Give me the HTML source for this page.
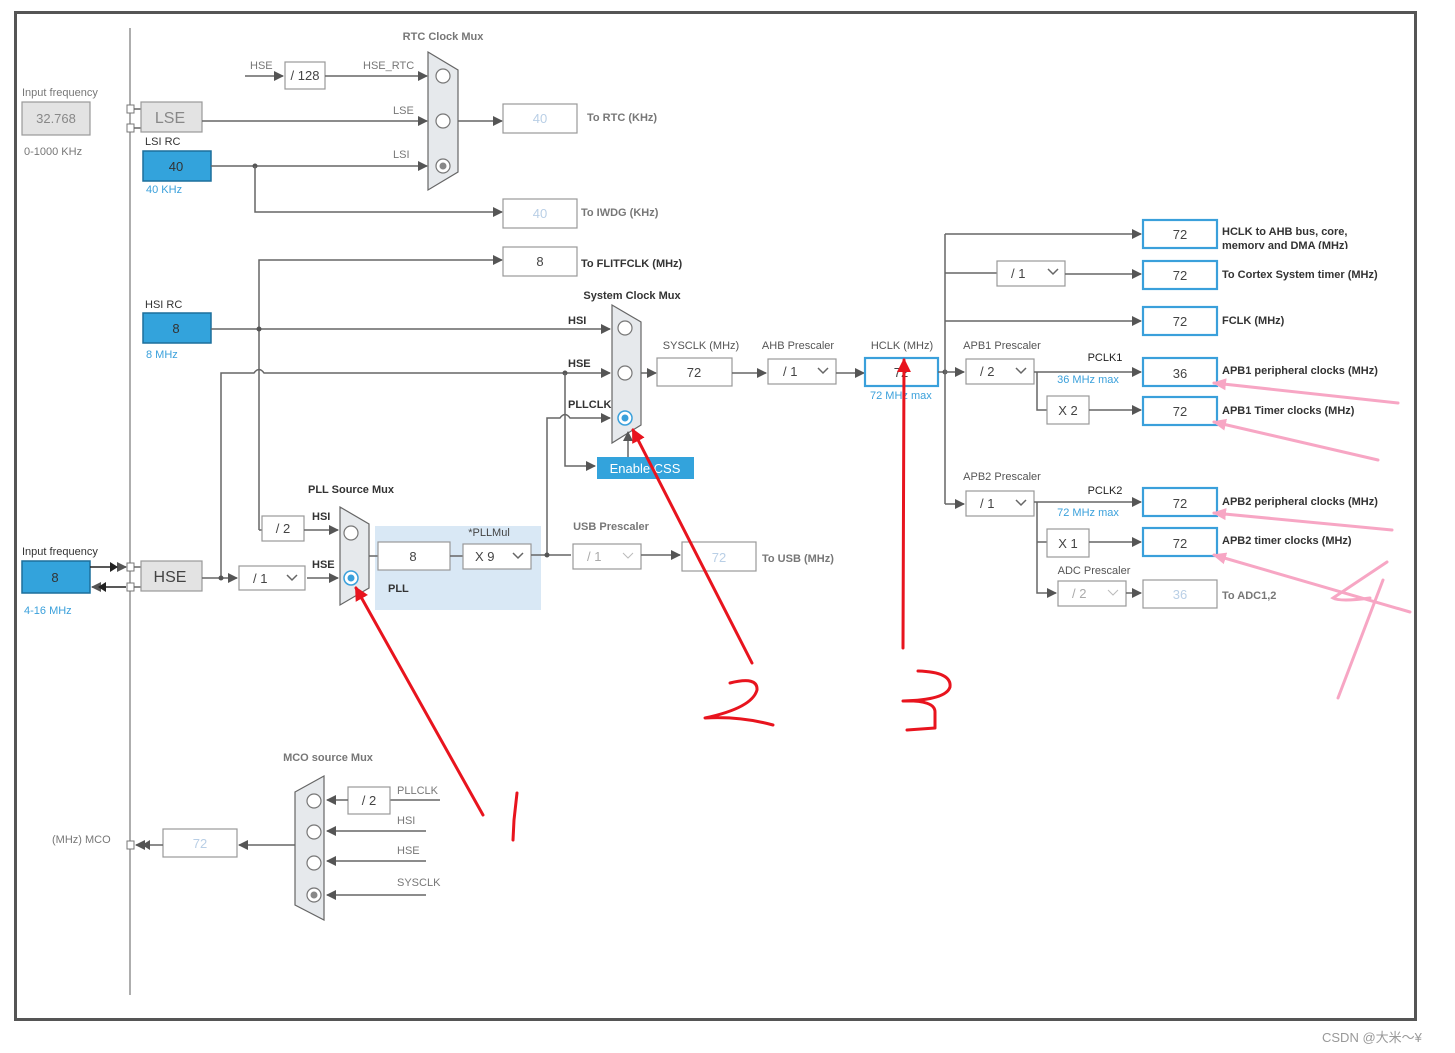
<!DOCTYPE html>
<html><head><meta charset="utf-8"><style>
html,body{margin:0;padding:0;background:#fff;}
svg{display:block;font-family:"Liberation Sans","Noto Sans CJK SC",sans-serif;}
.l{stroke:#666;stroke-width:1.5;fill:none}
.b{fill:#fff;stroke:#999;stroke-width:1.2}
.bb{fill:#fff;stroke:#3aa0db;stroke-width:2.2}
.g{fill:#e3e3e3;stroke:#999;stroke-width:1.2}
.bl{fill:#33a3dc;stroke:#1c6f9c;stroke-width:1.5}
.t{font-size:11px;fill:#777}
.tk{font-size:11px;fill:#333;font-weight:bold}
.n{font-size:13px;fill:#444;text-anchor:middle}
.nl{font-size:13px;fill:#b9cfe6;text-anchor:middle}
.tb{font-size:11px;fill:#3aa0db}
.mux{fill:#e6e9ec;stroke:#666;stroke-width:1.2}
.c{fill:#fff;stroke:#777;stroke-width:1.2}
.red{stroke:#e8141e;stroke-width:3;fill:none;stroke-linecap:round;stroke-linejoin:round}
.pk{stroke:#f7a6c4;stroke-width:3;fill:none;stroke-linecap:round}
</style></head><body>
<svg width="1455" height="1053" viewBox="0 0 1455 1053">
<defs>
<marker id="a" markerWidth="10" markerHeight="10" refX="9" refY="5" orient="auto" markerUnits="userSpaceOnUse"><path d="M0,0 L10,5 L0,10z" fill="#555"/></marker>
<marker id="r" markerWidth="14" markerHeight="14" refX="12" refY="7" orient="auto" markerUnits="userSpaceOnUse"><path d="M0,0 L14,7 L0,14z" fill="#e8141e"/></marker>
<marker id="p" markerWidth="14" markerHeight="14" refX="12" refY="7" orient="auto" markerUnits="userSpaceOnUse"><path d="M0,1 L14,7 L0,13z" fill="#f7a6c4"/></marker>
</defs>
<rect x="15.5" y="12.5" width="1400" height="1007" fill="none" stroke="#555" stroke-width="3"/>
<line x1="130" y1="28" x2="130" y2="995" stroke="#777" stroke-width="1.2"/>

<!-- RTC -->
<text x="443" y="40" class="t" text-anchor="middle" font-weight="bold">RTC Clock Mux</text>
<text x="250" y="69" class="t">HSE</text>
<line x1="245" y1="76" x2="283" y2="76" class="l" marker-end="url(#a)"/>
<rect x="285" y="62" width="40" height="27" class="b"/><text x="305" y="80" class="n">/ 128</text>
<text x="363" y="69" class="t">HSE_RTC</text>
<line x1="325" y1="76" x2="427" y2="76" class="l" marker-end="url(#a)"/>
<polygon points="428,52 458,70 458,172 428,190" class="mux"/>
<circle cx="443" cy="76" r="7" class="c"/><circle cx="443" cy="121" r="7" class="c"/><circle cx="443" cy="166" r="7" class="c"/><circle cx="443" cy="166" r="3.5" fill="#888"/>
<text x="22" y="96" class="t">Input frequency</text>
<rect x="22" y="102" width="68" height="33" class="g"/><text x="56" y="123" class="n" fill="#888" style="fill:#888">32.768</text>
<text x="24" y="155" class="t">0-1000 KHz</text>
<rect x="127" y="105" width="7" height="8" fill="#fff" stroke="#777"/><rect x="127" y="124" width="7" height="8" fill="#fff" stroke="#777"/>
<line x1="134" y1="109" x2="141" y2="109" class="l"/><line x1="134" y1="128" x2="141" y2="128" class="l"/>
<rect x="141" y="102" width="61" height="30" class="g"/><text x="170" y="123" class="n" style="font-size:16px;fill:#888">LSE</text>
<line x1="202" y1="121" x2="427" y2="121" class="l" marker-end="url(#a)"/><text x="393" y="114" class="t">LSE</text>
<text x="145" y="145" class="t" style="fill:#333">LSI RC</text>
<rect x="143" y="151" width="68" height="30" class="bl"/><text x="176" y="171" class="n" style="fill:#333">40</text>
<text x="146" y="193" class="tb">40 KHz</text>
<line x1="211" y1="166" x2="427" y2="166" class="l" marker-end="url(#a)"/><text x="393" y="158" class="t">LSI</text>
<circle cx="255" cy="166" r="2.5" fill="#555"/>
<polyline points="255,166 255,212 502,212" class="l" marker-end="url(#a)"/>
<line x1="458" y1="121" x2="502" y2="121" class="l" marker-end="url(#a)"/>
<rect x="503" y="104" width="74" height="29" class="b"/><text x="540" y="123" class="nl">40</text>
<text x="587" y="121" class="t" font-weight="bold">To RTC (KHz)</text>
<rect x="503" y="199" width="74" height="29" class="b"/><text x="540" y="218" class="nl">40</text>
<text x="581" y="216" class="t" font-weight="bold">To IWDG (KHz)</text>

<!-- FLITF / HSI -->
<polyline points="259,530 259,260 502,260" class="l" marker-end="url(#a)"/>
<rect x="503" y="247" width="74" height="29" class="b"/><text x="540" y="266" class="n">8</text>
<text x="581" y="267" class="tk">To FLITFCLK (MHz)</text>
<text x="145" y="308" class="t" style="fill:#333">HSI RC</text>
<rect x="143" y="313" width="68" height="30" class="bl"/><text x="176" y="333" class="n" style="fill:#333">8</text>
<text x="146" y="358" class="tb">8 MHz</text>
<line x1="211" y1="329" x2="610" y2="329" class="l" marker-end="url(#a)"/><circle cx="259" cy="329" r="2.5" fill="#555"/>
<text x="568" y="324" class="tk">HSI</text>
<path d="M221,578 L221,373 L254,373 Q259,366 264,373 L610,373" class="l" marker-end="url(#a)"/>
<text x="568" y="367" class="tk">HSE</text>
<circle cx="565" cy="373" r="2.5" fill="#555"/>
<polyline points="565,373 565,466 595,466" class="l" marker-end="url(#a)"/>
<path d="M547,555 L547,418 L560,418 Q565,411 570,418 L610,418" class="l" marker-end="url(#a)"/>
<text x="568" y="408" class="tk">PLLCLK</text>
<text x="632" y="299" class="tk" text-anchor="middle">System Clock Mux</text>
<polygon points="612,305 641,322 641,425 612,443" class="mux"/>
<circle cx="625" cy="328" r="7" class="c"/><circle cx="625" cy="373" r="7" class="c"/>
<circle cx="625" cy="418" r="7" fill="#fff" stroke="#3aa0db" stroke-width="1.5"/><circle cx="625" cy="418" r="3.5" fill="#3aa0db"/>
<rect x="597" y="457" width="97" height="22" fill="#33a3dc"/><text x="645" y="473" class="n" style="fill:#fff">Enable CSS</text>
<line x1="628" y1="457" x2="628" y2="432" class="l" marker-end="url(#a)"/>

<!-- SYSCLK/AHB/HCLK -->
<text x="701" y="349" class="t" text-anchor="middle" style="fill:#555">SYSCLK (MHz)</text>
<line x1="641" y1="373" x2="656" y2="373" class="l" marker-end="url(#a)"/>
<rect x="657" y="358" width="75" height="28" class="b"/><text x="694" y="377" class="n">72</text>
<line x1="732" y1="373" x2="766" y2="373" class="l" marker-end="url(#a)"/>
<text x="798" y="349" class="t" text-anchor="middle" style="fill:#555">AHB Prescaler</text>
<rect x="768" y="359" width="68" height="25" class="b"/><text x="783" y="376" class="n" style="text-anchor:start">/ 1</text><path d="M818,368 l5,5 l5,-5" class="l"/>
<line x1="836" y1="373" x2="864" y2="373" class="l" marker-end="url(#a)"/>
<text x="902" y="349" class="t" text-anchor="middle" style="fill:#555">HCLK (MHz)</text>
<rect x="865" y="358" width="73" height="28" class="bb"/><text x="901" y="377" class="n">72</text>
<text x="870" y="399" class="tb">72 MHz max</text>
<line x1="938" y1="372" x2="945" y2="372" class="l"/><circle cx="945" cy="372" r="2.5" fill="#555"/>
<line x1="945" y1="234" x2="945" y2="504" class="l"/>
<line x1="945" y1="234" x2="1141" y2="234" class="l" marker-end="url(#a)"/>
<rect x="1143" y="220" width="74" height="28" class="bb"/><text x="1180" y="239" class="n">72</text>
<text x="1222" y="235" class="tk">HCLK to AHB bus, core,</text>
<svg x="1222" y="238" width="200" height="11" overflow="hidden"><text x="0" y="11" class="tk">memory and DMA (MHz)</text></svg>
<line x1="945" y1="273" x2="997" y2="273" class="l"/>
<rect x="997" y="261" width="68" height="25" class="b"/><text x="1011" y="278" class="n" style="text-anchor:start">/ 1</text><path d="M1048,269 l5,5 l5,-5" class="l"/>
<line x1="1065" y1="274" x2="1141" y2="274" class="l" marker-end="url(#a)"/>
<rect x="1143" y="261" width="74" height="28" class="bb"/><text x="1180" y="280" class="n">72</text>
<text x="1222" y="278" class="tk">To Cortex System timer (MHz)</text>
<line x1="945" y1="321" x2="1141" y2="321" class="l" marker-end="url(#a)"/>
<rect x="1143" y="307" width="74" height="28" class="bb"/><text x="1180" y="326" class="n">72</text>
<text x="1222" y="324" class="tk">FCLK (MHz)</text>

<!-- APB1 -->
<text x="1002" y="349" class="t" text-anchor="middle" style="fill:#555">APB1 Prescaler</text>
<line x1="945" y1="372" x2="964" y2="372" class="l" marker-end="url(#a)"/>
<rect x="966" y="359" width="68" height="25" class="b"/><text x="980" y="376" class="n" style="text-anchor:start">/ 2</text><path d="M1016,368 l5,5 l5,-5" class="l"/>
<line x1="1034" y1="372" x2="1141" y2="372" class="l" marker-end="url(#a)"/>
<text x="1105" y="361" class="tk" style="font-weight:normal;fill:#222" text-anchor="middle">PCLK1</text>
<text x="1088" y="383" class="tb" text-anchor="middle">36 MHz max</text>
<rect x="1143" y="358" width="74" height="28" class="bb"/><text x="1180" y="378" class="n">36</text>
<text x="1222" y="374" class="tk">APB1 peripheral clocks (MHz)</text>
<polyline points="1037,372 1037,410 1047,410" class="l"/>
<rect x="1047" y="396" width="42" height="28" class="b"/><text x="1068" y="415" class="n">X 2</text>
<line x1="1089" y1="410" x2="1141" y2="410" class="l" marker-end="url(#a)"/>
<rect x="1143" y="397" width="74" height="28" class="bb"/><text x="1180" y="416" class="n">72</text>
<text x="1222" y="414" class="tk">APB1 Timer clocks (MHz)</text>

<!-- APB2 -->
<text x="1002" y="480" class="t" text-anchor="middle" style="fill:#555">APB2 Prescaler</text>
<line x1="945" y1="504" x2="964" y2="504" class="l" marker-end="url(#a)"/>
<rect x="966" y="491" width="68" height="25" class="b"/><text x="980" y="508" class="n" style="text-anchor:start">/ 1</text><path d="M1016,500 l5,5 l5,-5" class="l"/>
<line x1="1034" y1="502" x2="1141" y2="502" class="l" marker-end="url(#a)"/>
<text x="1105" y="494" class="tk" style="font-weight:normal;fill:#222" text-anchor="middle">PCLK2</text>
<text x="1088" y="516" class="tb" text-anchor="middle">72 MHz max</text>
<rect x="1143" y="488" width="74" height="28" class="bb"/><text x="1180" y="508" class="n">72</text>
<text x="1222" y="505" class="tk">APB2 peripheral clocks (MHz)</text>
<polyline points="1037,502 1037,593 1056,593" class="l" marker-end="url(#a)"/>
<line x1="1037" y1="542" x2="1047" y2="542" class="l"/>
<rect x="1047" y="529" width="42" height="28" class="b"/><text x="1068" y="548" class="n">X 1</text>
<line x1="1089" y1="542" x2="1141" y2="542" class="l" marker-end="url(#a)"/>
<rect x="1143" y="528" width="74" height="28" class="bb"/><text x="1180" y="548" class="n">72</text>
<text x="1222" y="544" class="tk">APB2 timer clocks (MHz)</text>
<text x="1094" y="574" class="t" text-anchor="middle" style="fill:#555">ADC Prescaler</text>
<rect x="1058" y="581" width="68" height="25" class="b"/><text x="1072" y="598" class="nl" style="text-anchor:start;fill:#aaa">/ 2</text><path d="M1108,590 l5,5 l5,-5" stroke="#bbb" fill="none"/>
<line x1="1126" y1="593" x2="1141" y2="593" class="l" marker-end="url(#a)"/>
<rect x="1143" y="580" width="74" height="28" class="b"/><text x="1180" y="599" class="nl">36</text>
<text x="1222" y="599" class="t" font-weight="bold">To ADC1,2</text>

<!-- HSE input / PLL -->
<text x="22" y="555" class="t" style="fill:#333">Input frequency</text>
<rect x="22" y="561" width="68" height="32" class="bl"/><text x="55" y="582" class="n" style="fill:#333">8</text>
<text x="24" y="614" class="tb">4-16 MHz</text>
<line x1="90" y1="567" x2="126" y2="567" stroke="#222" stroke-width="1.5" marker-end="url(#a)"/>
<path d="M110,562 l8,5 l-8,5z" fill="#222"/>
<line x1="126" y1="587" x2="92" y2="587" stroke="#222" stroke-width="1.5" marker-end="url(#a)"/>
<path d="M106,582 l-8,5 l8,5z" fill="#222"/>
<rect x="127" y="563" width="7" height="8" fill="#fff" stroke="#777"/><rect x="127" y="583" width="7" height="8" fill="#fff" stroke="#777"/>
<line x1="134" y1="567" x2="141" y2="567" class="l"/><line x1="134" y1="587" x2="141" y2="587" class="l"/>
<rect x="141" y="561" width="61" height="30" class="g"/><text x="170" y="582" class="n" style="font-size:16px;fill:#444">HSE</text>
<line x1="202" y1="578" x2="237" y2="578" class="l" marker-end="url(#a)"/><circle cx="221" cy="578" r="2.5" fill="#555"/>
<rect x="239" y="566" width="66" height="24" class="b"/><text x="253" y="583" class="n" style="text-anchor:start">/ 1</text><path d="M287,575 l5,5 l5,-5" class="l"/>
<line x1="307" y1="578" x2="338" y2="578" class="l" marker-end="url(#a)"/>
<text x="312" y="568" class="tk">HSE</text>
<polyline points="259,530 262,530" class="l"/>
<rect x="262" y="516" width="42" height="25" class="b"/><text x="283" y="533" class="n">/ 2</text>
<line x1="304" y1="530" x2="338" y2="530" class="l" marker-end="url(#a)"/>
<text x="312" y="520" class="tk">HSI</text>
<text x="351" y="493" class="tk" text-anchor="middle">PLL Source Mux</text>
<polygon points="340,507 369,524 369,588 340,605" class="mux"/>
<circle cx="351" cy="533" r="7" class="c"/>
<circle cx="351" cy="578" r="7" fill="#fff" stroke="#3aa0db" stroke-width="1.5"/><circle cx="351" cy="578" r="3.5" fill="#3aa0db"/>
<rect x="375" y="526" width="166" height="84" fill="#d9e8f5"/>
<line x1="369" y1="556" x2="378" y2="556" class="l"/>
<rect x="378" y="542" width="72" height="28" class="b"/><text x="413" y="561" class="n">8</text>
<line x1="450" y1="556" x2="463" y2="556" class="l"/>
<text x="489" y="536" class="t" text-anchor="middle" style="fill:#444">*PLLMul</text>
<rect x="463" y="544" width="68" height="25" class="b"/><text x="475" y="561" class="n" style="text-anchor:start">X 9</text><path d="M513,553 l5,5 l5,-5" class="l"/>
<text x="388" y="592" class="tk">PLL</text>
<line x1="531" y1="555" x2="571" y2="555" class="l"/><circle cx="547" cy="555" r="2.5" fill="#555"/>
<text x="611" y="530" class="t" text-anchor="middle" font-weight="bold">USB Prescaler</text>
<rect x="573" y="544" width="68" height="25" class="b"/><text x="587" y="561" class="nl" style="text-anchor:start;fill:#aaa">/ 1</text><path d="M623,553 l5,5 l5,-5" stroke="#bbb" fill="none"/>
<line x1="641" y1="555" x2="680" y2="555" class="l" marker-end="url(#a)"/>
<rect x="682" y="542" width="74" height="29" class="b"/><text x="719" y="562" class="nl">72</text>
<text x="762" y="562" class="t" font-weight="bold">To USB (MHz)</text>

<!-- MCO -->
<text x="328" y="761" class="t" text-anchor="middle" font-weight="bold">MCO source Mux</text>
<polygon points="295,792 324,776 324,920 295,905" class="mux"/>
<circle cx="314" cy="801" r="7" class="c"/><circle cx="314" cy="832" r="7" class="c"/><circle cx="314" cy="863" r="7" class="c"/><circle cx="314" cy="895" r="7" class="c"/><circle cx="314" cy="895" r="3.5" fill="#888"/>
<text x="397" y="794" class="t">PLLCLK</text>
<line x1="440" y1="800" x2="390" y2="800" class="l"/>
<rect x="348" y="787" width="42" height="27" class="b"/><text x="369" y="805" class="n">/ 2</text>
<line x1="348" y1="800" x2="327" y2="800" class="l" marker-end="url(#a)"/>
<text x="397" y="824" class="t">HSI</text><line x1="426" y1="831" x2="327" y2="831" class="l" marker-end="url(#a)"/>
<text x="397" y="854" class="t">HSE</text><line x1="426" y1="861" x2="327" y2="861" class="l" marker-end="url(#a)"/>
<text x="397" y="886" class="t">SYSCLK</text><line x1="426" y1="895" x2="327" y2="895" class="l" marker-end="url(#a)"/>
<line x1="295" y1="845" x2="239" y2="845" class="l" marker-end="url(#a)"/>
<rect x="163" y="829" width="74" height="28" class="b"/><text x="200" y="848" class="nl">72</text>
<line x1="163" y1="845" x2="136" y2="845" class="l" marker-end="url(#a)"/><path d="M150,840 l-8,5 l8,5z" fill="#555"/>
<rect x="127" y="841" width="7" height="8" fill="#fff" stroke="#777"/>
<text x="52" y="843" class="t">(MHz) MCO</text>

<!-- annotations -->
<line x1="483" y1="815" x2="356" y2="588" class="red" marker-end="url(#r)"/>
<path d="M517,793 L514,820 L513,840" class="red"/>
<line x1="752" y1="663" x2="633" y2="430" class="red" marker-end="url(#r)"/>
<path d="M730,683 Q758,676 757,690 Q752,708 705,718 Q740,716 773,725" class="red"/>
<line x1="903" y1="648" x2="904" y2="360" class="red" marker-end="url(#r)"/>
<path d="M918,671 Q952,672 950,687 Q946,700 903,701 Q935,700 935,712 L935,728 L907,730" class="red"/>
<line x1="1398" y1="403" x2="1214" y2="383" class="pk" marker-end="url(#p)"/>
<line x1="1378" y1="460" x2="1214" y2="422" class="pk" marker-end="url(#p)"/>
<line x1="1392" y1="530" x2="1214" y2="513" class="pk" marker-end="url(#p)"/>
<line x1="1410" y1="612" x2="1214" y2="555" class="pk" marker-end="url(#p)"/>
<path d="M1387,562 L1333,598 Q1340,602 1370,598" class="pk"/>
<line x1="1383" y1="580" x2="1338" y2="698" class="pk"/>

<text x="1322" y="1042" style="font-size:13px;fill:#999">CSDN @大米～¥</text>
</svg>
</body></html>
